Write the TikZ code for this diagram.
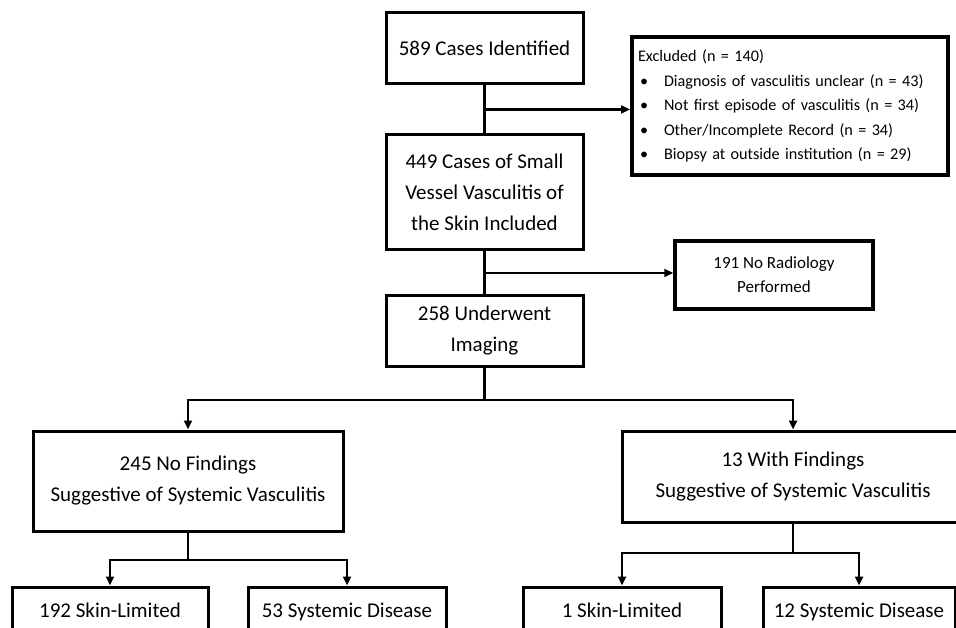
\documentclass[tikz,border=0pt]{standalone}
\usepackage{fontspec}
\setmainfont{Carlito}
\usetikzlibrary{arrows.meta,calc}
\tikzset{
        flowbox/.style = {draw=black, line width=3pt, fill=white, align=center,
            inner sep=0pt, font=\fontsize{21}{31}\selectfont},
        flow_main/.style = {flowbox, minimum width=197pt},
        flow_side/.style = {flowbox, line width=3.5pt,
            font=\fontsize{17}{24}\selectfont},
        flow_excl/.style = {flowbox, line width=4pt, align=left, text width=304pt,
            inner xsep=6pt, font=\fontsize{16.2}{24.5}\selectfont},
        flow_leaf/.style = {flowbox, minimum height=46pt, text height=14pt,
            text depth=0pt},
        link/.style = {line width=2.5pt}
    }
\newcommand{\exclitem}[1]{\hspace*{2pt}\makebox[24pt][l]{\textbullet}#1}

\begin{document}
\begin{tikzpicture}[x=1pt,y=-1pt,>={Triangle[length=9pt,width=8pt]}]
    \useasboundingbox (0,0) rectangle (956,628);
    \clip (0,0) rectangle (956,628);
    % main column
    \node[flow_main, minimum height=71pt] (n589) at (484.5,48.5) {589 Cases Identified};
    \node[flow_main, minimum height=115pt] (n449) at (484.5,192.5)
        {449 Cases of Small\\Vessel Vasculitis of\\the Skin Included};
    \node[flow_main, minimum height=70pt] (n258) at (484.5,331) {258 Underwent\\Imaging};
    % side boxes
    \node[flow_excl, minimum height=138pt] (excl) at (790,106)
        {Excluded (n = 140)\\
         \exclitem{Diagnosis of vasculitis unclear (n = 43)}\\
         \exclitem{Not first episode of vasculitis (n = 34)}\\
         \exclitem{Other/Incomplete Record (n = 34)}\\
         \exclitem{Biopsy at outside institution (n = 29)}};
    \node[flow_side, minimum width=198pt, minimum height=68pt] (noradio) at (774,275)
        {191 No Radiology\\Performed};
    % imaging results
    \node[flowbox, minimum width=310pt, minimum height=100pt] (n245) at (188,481)
        {245 No Findings\\Suggestive of Systemic Vasculitis};
    \node[flowbox, minimum width=342pt, minimum height=91pt] (n13) at (793,476.5)
        {13 With Findings\\Suggestive of Systemic Vasculitis};
    % leaves
    \node[flow_leaf, minimum width=196pt] (n192) at (110,610) {192 Skin-Limited};
    \node[flow_leaf, minimum width=198pt] (n53) at (347,610) {53 Systemic Disease};
    \node[flow_leaf, minimum width=198pt] (n1) at (622,610) {1 Skin-Limited};
    \node[flow_leaf, minimum width=192pt] (n12) at (859,610) {12 Systemic Disease};

    \coordinate (j1) at ($(n589.south)!.5!(n449.north)$);
    \coordinate (j2) at ($(n449.south)!.5!(n258.north)$);
    \coordinate (split1) at (484.5,400);
    \coordinate (split2) at (188,560);
    \coordinate (split3) at (793,553);

    \draw[link] (n589) -- (n449);
    \draw[link] (n449) -- (n258);
    \draw[link,->] (j1) -- (j1 -| excl.west);
    \draw[link,->] (j2) -- (j2 -| noradio.west);
    \draw[link] (n258) -- (split1);
    \draw[link,->] (split1) -| (n245);
    \draw[link,->] (split1) -| (n13);
    \draw[link] (n245) -- (split2);
    \draw[link,->] (split2) -| (n192);
    \draw[link,->] (split2) -| (n53);
    \draw[link] (n13) -- (split3);
    \draw[link,->] (split3) -| (n1);
    \draw[link,->] (split3) -| (n12);
\end{tikzpicture}
\end{document}
